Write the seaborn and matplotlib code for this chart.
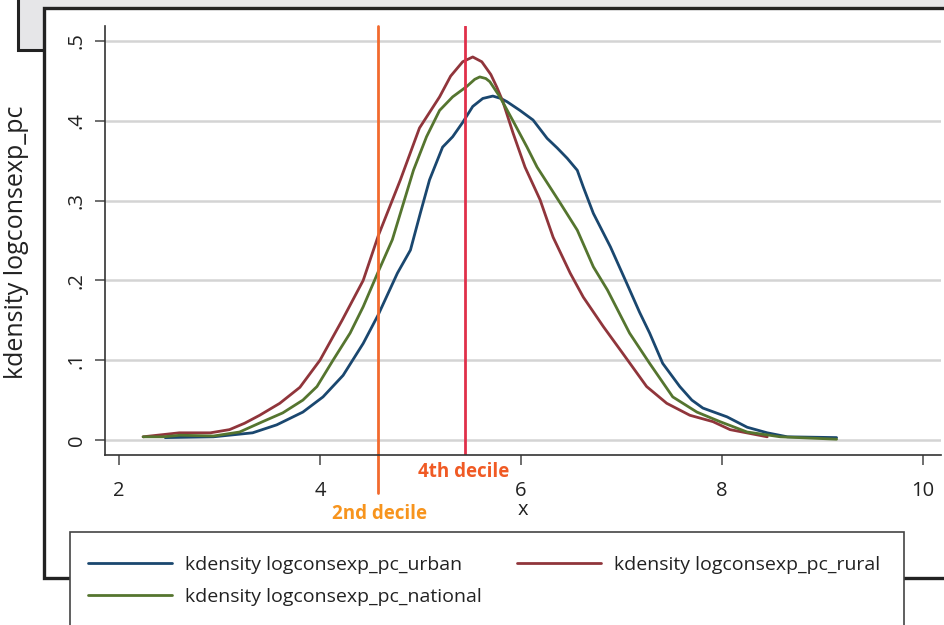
import matplotlib
matplotlib.use("Agg")
import matplotlib.pyplot as plt
from matplotlib.patches import Rectangle
from matplotlib.lines import Line2D
import numpy as np
import pandas as pd
import seaborn as sns

# kdensity curves
urban_x = [2.46, 2.94, 3.33, 3.57, 3.83, 4.03, 4.23, 4.43, 4.58, 4.77, 4.90, 5.00, 5.09, 5.22,
           5.32, 5.42, 5.52, 5.62, 5.72, 5.80, 5.86, 5.99, 6.12, 6.26, 6.36, 6.46, 6.56, 6.62,
           6.72, 6.89, 7.05, 7.18, 7.28, 7.41, 7.58, 7.70, 7.81, 8.05, 8.25, 8.45, 8.65, 9.14]
urban_y = [0.003, 0.004, 0.009, 0.019, 0.035, 0.054, 0.081, 0.121, 0.157, 0.209, 0.238, 0.285, 0.326,
           0.367, 0.380, 0.398, 0.418, 0.428, 0.431, 0.428, 0.424, 0.413, 0.401, 0.378, 0.366, 0.353,
           0.338, 0.317, 0.284, 0.242, 0.197, 0.160, 0.134, 0.096, 0.067, 0.050, 0.040, 0.029, 0.016,
           0.009, 0.004, 0.003]

rural_x = [2.24, 2.60, 2.91, 3.10, 3.25, 3.40, 3.60, 3.80, 4.00, 4.22, 4.43, 4.58, 4.80,
           4.99, 5.19, 5.30, 5.42, 5.52, 5.61, 5.70, 5.76, 5.82, 5.92, 6.04, 6.19, 6.32, 6.49,
           6.62, 6.82, 7.01, 7.25, 7.45, 7.68, 7.91, 8.08, 8.45]
rural_y = [0.004, 0.009, 0.009, 0.013, 0.021, 0.031, 0.046, 0.066, 0.100, 0.150, 0.200, 0.256, 0.326,
           0.391, 0.430, 0.456, 0.474, 0.480, 0.474, 0.458, 0.442, 0.424, 0.385, 0.342, 0.301, 0.254,
           0.209, 0.179, 0.142, 0.109, 0.067, 0.046, 0.031, 0.023, 0.013, 0.004]

national_x = [2.24, 2.44, 2.61, 2.94, 3.20, 3.43, 3.63, 3.83, 3.97, 4.13, 4.30, 4.43, 4.58,
              4.72, 4.93, 5.06, 5.19, 5.32, 5.46, 5.54, 5.59, 5.65, 5.69, 5.79, 5.92, 6.06,
              6.16, 6.39, 6.56, 6.72, 6.86, 7.08, 7.28, 7.51, 7.75, 7.98, 8.25, 8.58, 9.14]
national_y = [0.004, 0.004, 0.006, 0.005, 0.010, 0.023, 0.034, 0.050, 0.067, 0.100, 0.134, 0.167, 0.211,
              0.251, 0.338, 0.380, 0.413, 0.430, 0.443, 0.452, 0.455, 0.453, 0.449, 0.430, 0.400, 0.367,
              0.342, 0.297, 0.263, 0.217, 0.188, 0.134, 0.096, 0.054, 0.035, 0.023, 0.010, 0.004, 0.001]

deciles = [4.577, 5.443]
decile_labels = ["2nd decile", "4th decile"]

series_names = ["kdensity logconsexp_pc_urban",
                "kdensity logconsexp_pc_rural",
                "kdensity logconsexp_pc_national"]
colors = ["#1a476f", "#90353b", "#55752f"]

xticks = [2, 4, 6, 8, 10]
yticks = [0, 0.1, 0.2, 0.3, 0.4, 0.5]
ytick_labels = ["0", ".1", ".2", ".3", ".4", ".5"]

# long table for seaborn
frames = []
for name, xs, ys in zip(series_names, [urban_x, rural_x, national_x], [urban_y, rural_y, national_y]):
    frames.append(pd.DataFrame({"x": xs, "y": ys, "series": name}))
df = pd.concat(frames, ignore_index=True)

sns.set_style("white")
plt.rcParams['font.family'] = ['Open Sans', 'DejaVu Sans']

W, H = 944, 625
fig = plt.figure(figsize=(W / 100, H / 100), dpi=100)


def fx(px):
    return px / W


def fy(py):
    return 1 - py / H


# window frames behind the graph
fig.patches.append(Rectangle((fx(18), fy(50)), fx(1000) - fx(18), fy(-20) - fy(50),
                             transform=fig.transFigure, facecolor="#e6e6e8",
                             edgecolor="#222222", linewidth=2.2, zorder=0))
fig.patches.append(Rectangle((fx(44), fy(578)), fx(1000) - fx(44), fy(8) - fy(578),
                             transform=fig.transFigure, facecolor="white",
                             edgecolor="#222222", linewidth=2.4, zorder=1))
fig.patches.append(Rectangle((fx(70), fy(700)), fx(904) - fx(70), fy(532) - fy(700),
                             transform=fig.transFigure, facecolor="white",
                             edgecolor="#444444", linewidth=1.2, zorder=2))

ax = fig.add_axes([fx(105), fy(455), fx(941) - fx(105), fy(26) - fy(455)])
ax.set_zorder(3)
ax.patch.set_alpha(0)

sns.lineplot(data=df, x="x", y="y", hue="series", hue_order=series_names,
             palette=colors, sort=False, estimator=None, linewidth=2, legend=False, ax=ax)
for ln in ax.lines:
    ln.set_solid_joinstyle("round")

ax.set_xlim(1.861, 10.179)
ax.set_ylim(-0.0188, 0.5188)
ax.set_xticks(xticks)
ax.set_yticks(yticks)
ax.set_yticklabels(ytick_labels, rotation=90, va="center")
ax.yaxis.grid(True, color="#d4d4d4", linewidth=1.8)
ax.xaxis.grid(False)
for s in ["top", "right"]:
    ax.spines[s].set_visible(False)
for s in ["left", "bottom"]:
    ax.spines[s].set_color("#333333")
    ax.spines[s].set_linewidth(1.2)
ax.tick_params(axis="both", direction="out", length=7, width=1.2, color="#555555",
               labelsize=14.5, labelcolor="#222222", bottom=True, left=True)
ax.tick_params(axis="x", pad=12)
ax.tick_params(axis="y", pad=6)
ax.set_xlabel("x", fontsize=14.5, color="#222222")
ax.xaxis.set_label_coords(0.5, (455 - 500) / 429)
ax.set_ylabel("kdensity logconsexp_pc", fontsize=18, color="#222222")
ax.yaxis.set_label_coords((29 - 105) / 836, (455 - 242) / 429)

# decile lines
ax.axvline(deciles[0], ymin=-0.0886, ymax=1, color="#f26a2e", linewidth=2, clip_on=False)
ax.axvline(deciles[1], ymin=0, ymax=1, color="#e0304a", linewidth=2)
ax.text(deciles[0] + 0.02, -0.0925, decile_labels[0], color="#f7941d", fontsize=13.5,
        fontweight="bold", ha="center", va="center")
ax.text(deciles[1] - 0.01, -0.0405, decile_labels[1], color="#f05a24", fontsize=13.5,
        fontweight="bold", ha="center", va="center")

# legend
handles = [Line2D([], [], color=c, linewidth=2) for c in colors]
leg_kw = dict(loc="upper left", frameon=False, fontsize=14, handlelength=4.3,
              handletextpad=0.7, labelspacing=0.72, borderpad=0, borderaxespad=0)
leg1 = fig.legend([handles[0], handles[2]], [series_names[0], series_names[2]],
                  bbox_to_anchor=(fx(88), fy(556)), **leg_kw)
leg2 = fig.legend([handles[1]], [series_names[1]],
                  bbox_to_anchor=(fx(517), fy(556)), **leg_kw)
for lg in (leg1, leg2):
    lg.set_zorder(4)
    for t in lg.get_texts():
        t.set_color("#222222")

fig.savefig("out.png", dpi=100)
